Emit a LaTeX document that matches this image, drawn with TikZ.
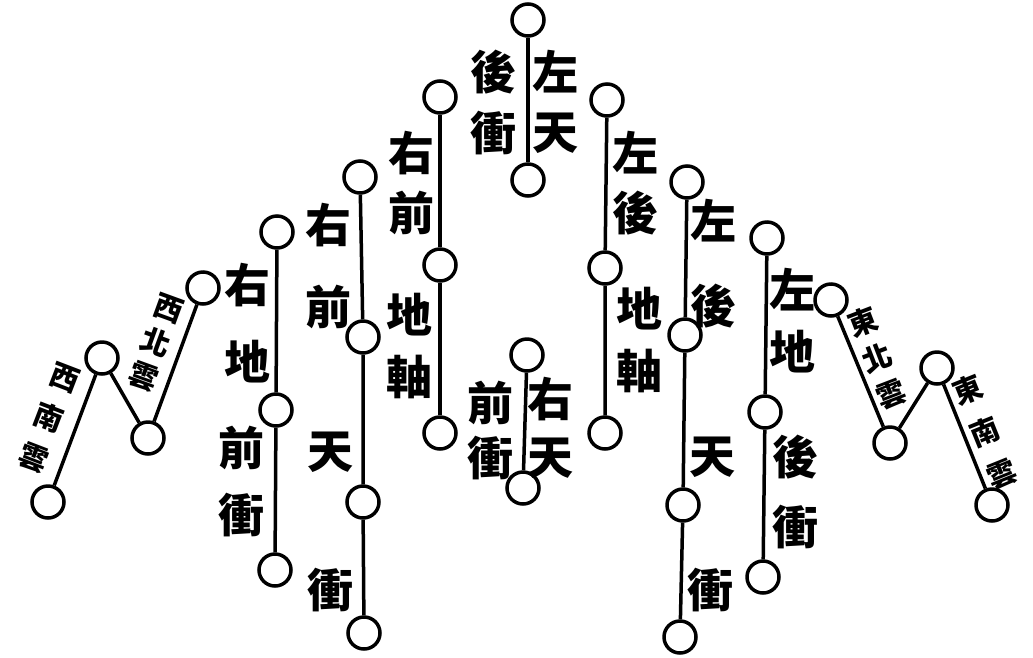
\documentclass[tikz,border=0pt]{standalone}
\usepackage{fontspec}
\newfontfamily\cjk{Noto Sans CJK TC}
\begin{document}
\begin{tikzpicture}[x=1pt, y=-1pt,
  ring/.style={draw, circle, line width=3.5pt, minimum size=32pt, inner sep=0pt},
  bar/.style={line width=3.5pt},
  glyph/.style={font=\cjk\bfseries\fontsize{46}{#1}\selectfont, align=center, inner sep=0pt},
  glyph/.default=60,
  cloud/.style={font=\cjk\bfseries\fontsize{29}{#1}\selectfont, align=center, inner sep=0pt}]
  \fill[white] (0,0) rectangle (1033,657);
  \useasboundingbox (0,0) rectangle (1033,657);
  % centre, upper and lower
  \node[ring] (ct1) at (528,20) {};
  \node[ring] (ct2) at (528,180) {};
  \node[ring] (cb1) at (527,355) {};
  \node[ring] (cb2) at (523,488) {};
  \draw[bar] (ct1) -- (ct2);
  \draw[bar] (cb1) -- (cb2);
  \node[glyph=61] (tct1) at (493,102) {後\\衝};
  \node[glyph=60] (tct2) at (555,102) {左\\天};
  \node[glyph=55] (tcb1) at (490,430) {前\\衝};
  \node[glyph=58] (tcb2) at (550,428) {右\\天};
  % right-hand columns
  \node[ring] (a1) at (440,97) {};
  \node[ring] (a2) at (440,265) {};
  \node[ring] (a3) at (440,433) {};
  \draw[bar] (a1) -- (a2) -- (a3);
  \node[glyph=60] (ta1) at (411,183) {右\\前};
  \node[glyph=62] (ta2) at (409,346) {地\\軸};
  \node[ring] (b1) at (360,177) {};
  \node[ring] (b2) at (363,337) {};
  \node[ring] (b3) at (363,502) {};
  \node[ring] (b4) at (364,633) {};
  \draw[bar] (b1) -- (b2) -- (b3) -- (b4);
  \node[glyph=82] (tb1) at (328,266) {右\\前};
  \node[glyph] (tb2) at (330,452) {天};
  \node[glyph] (tb3) at (330,590) {衝};
  \node[ring] (c1) at (277,232) {};
  \node[ring] (c2) at (276,410) {};
  \node[ring] (c3) at (275,570) {};
  \draw[bar] (c1) -- (c2) -- (c3);
  \node[glyph=77] (tc1) at (247,323) {右\\地};
  \node[glyph=67] (tc2) at (241,481) {前\\衝};
  % left-hand columns
  \node[ring] (d1) at (607,100) {};
  \node[ring] (d2) at (605,268) {};
  \node[ring] (d3) at (605,433) {};
  \draw[bar] (d1) -- (d2) -- (d3);
  \node[glyph=60] (td1) at (635,183) {左\\後};
  \node[glyph=62] (td2) at (639,340) {地\\軸};
  \node[ring] (e1) at (687,182) {};
  \node[ring] (e2) at (685,335) {};
  \node[ring] (e3) at (683,505) {};
  \node[ring] (e4) at (680,637) {};
  \draw[bar] (e1) -- (e2) -- (e3) -- (e4);
  \node[glyph=85] (te1) at (713,264) {左\\後};
  \node[glyph] (te2) at (712,457) {天};
  \node[glyph] (te3) at (710,590) {衝};
  \node[ring] (f1) at (767,238) {};
  \node[ring] (f2) at (765,412) {};
  \node[ring] (f3) at (763,577) {};
  \draw[bar] (f1) -- (f2) -- (f3);
  \node[glyph=62] (tf1) at (792,321) {左\\地};
  \node[glyph=70] (tf2) at (795,492) {後\\衝};
  % west clouds
  \node[ring] (w1) at (203,288) {};
  \node[ring] (w2) at (102,358) {};
  \node[ring] (w3) at (148,438) {};
  \node[ring] (w4) at (48,502) {};
  \draw[bar] (w1) -- (w3) -- (w2) -- (w4);
  \node[cloud=36, rotate=-20] (tw1) at (156,343) {西\\北\\雲};
  \node[cloud=43, rotate=-21] (tw2) at (49,418) {西\\南\\雲};
  % east clouds
  \node[ring] (z1) at (831,300) {};
  \node[ring] (z2) at (890,443) {};
  \node[ring] (z3) at (937,368) {};
  \node[ring] (z4) at (992,505) {};
  \draw[bar] (z1) -- (z2) -- (z3) -- (z4);
  \node[cloud=39, rotate=21] (tz1) at (877,358) {東\\北\\雲};
  \node[cloud=45, rotate=22] (tz2) at (985,432) {東\\南\\雲};
\end{tikzpicture}
\end{document}
